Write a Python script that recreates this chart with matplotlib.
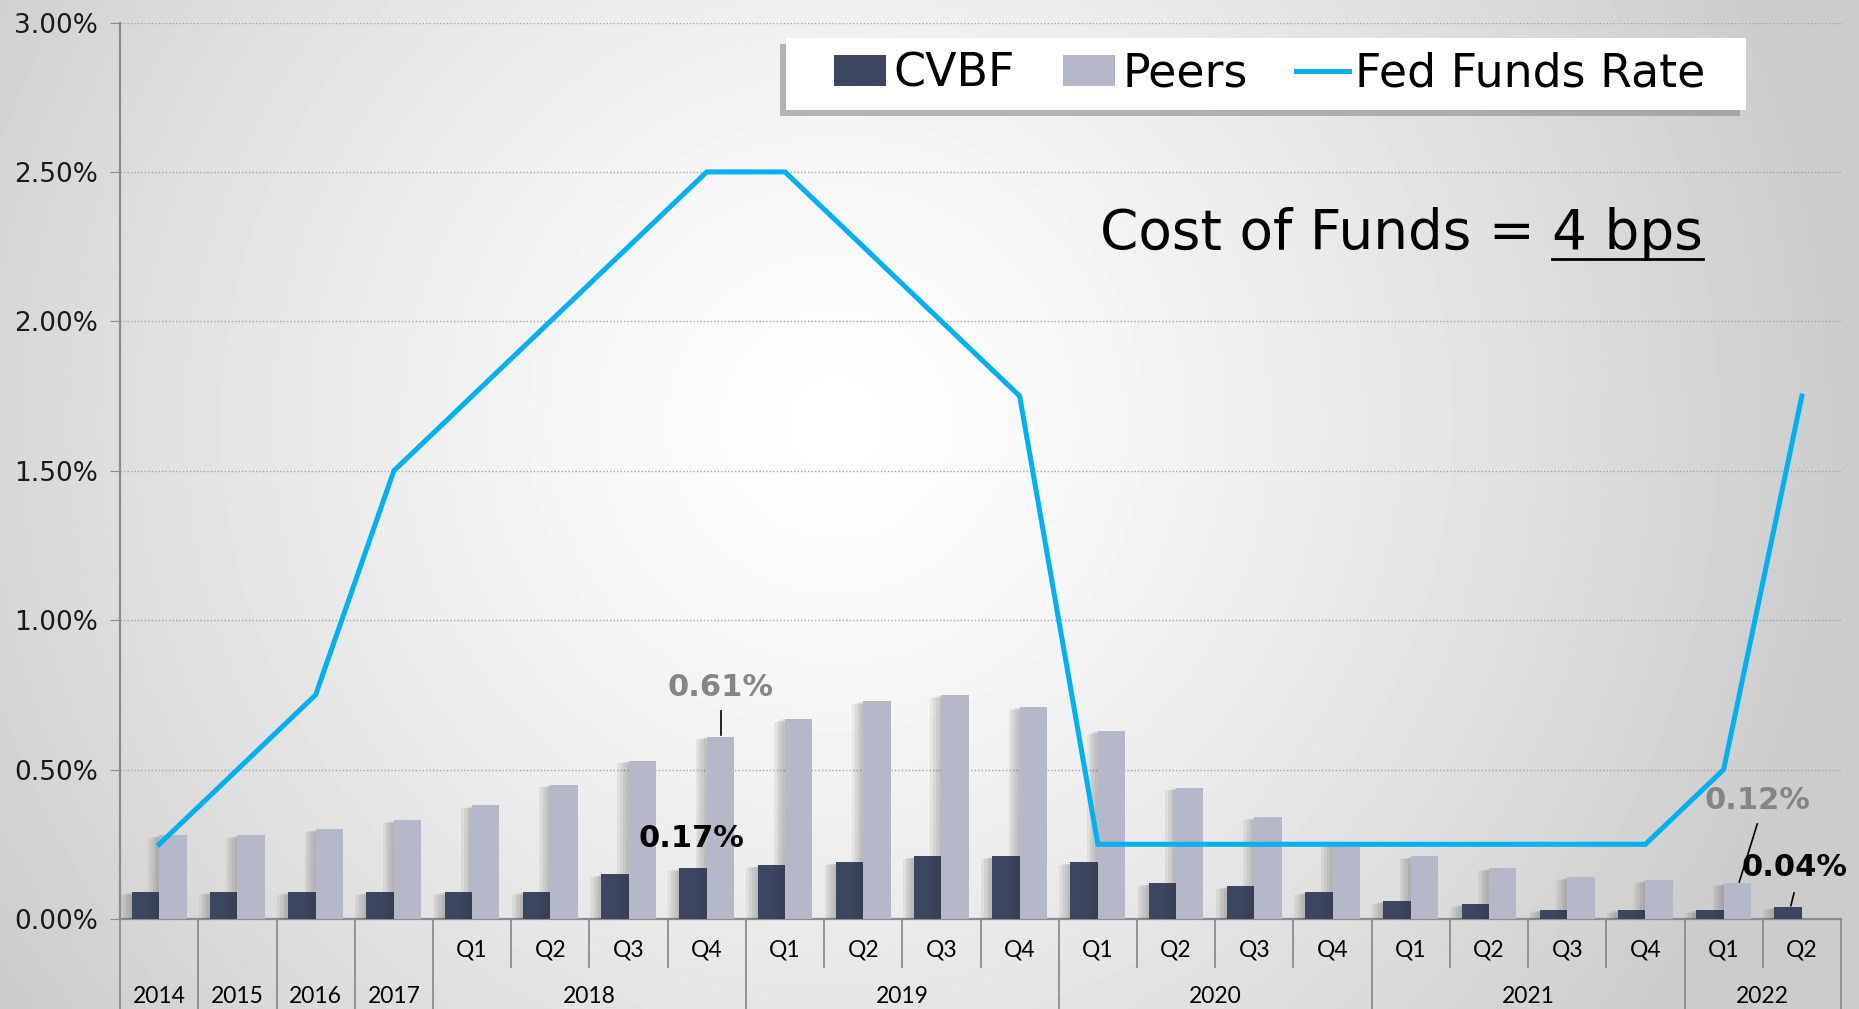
import numpy as np
import matplotlib.pyplot as plt
from matplotlib import patheffects
from matplotlib.patches import Patch, Rectangle
from matplotlib.lines import Line2D
import matplotlib.transforms as mtransforms

plt.rcParams['font.family'] = ['DejaVu Sans']

# ---- data (values in %) ----
quarter_labels = ['', '', '', '',
                  'Q1', 'Q2', 'Q3', 'Q4',
                  'Q1', 'Q2', 'Q3', 'Q4',
                  'Q1', 'Q2', 'Q3', 'Q4',
                  'Q1', 'Q2', 'Q3', 'Q4',
                  'Q1', 'Q2']
year_names = ['2014', '2015', '2016', '2017', '2018', '2019', '2020', '2021', '2022']
year_first = [0, 1, 2, 3, 4, 8, 12, 16, 20]
year_last = [0, 1, 2, 3, 7, 11, 15, 19, 21]

cvbf = [0.09, 0.09, 0.09, 0.09,
        0.09, 0.09, 0.15, 0.17,
        0.18, 0.19, 0.21, 0.21,
        0.19, 0.12, 0.11, 0.09,
        0.06, 0.05, 0.03, 0.03,
        0.03, 0.04]
peers = [0.28, 0.28, 0.30, 0.33,
         0.38, 0.45, 0.53, 0.61,
         0.67, 0.73, 0.75, 0.71,
         0.63, 0.44, 0.34, 0.25,
         0.21, 0.17, 0.14, 0.13,
         0.12]
fed_funds = [0.25, 0.50, 0.75, 1.50,
             1.75, 2.00, 2.25, 2.50,
             2.50, 2.25, 2.00, 1.75,
             0.25, 0.25, 0.25, 0.25,
             0.25, 0.25, 0.25, 0.25,
             0.50, 1.75]

NAVY = '#3b4660'
LILAC = '#b5b8c9'
BLUE = '#00b0f0'
GREY_TXT = '#858585'

fig = plt.figure(figsize=(18.59, 10.09), dpi=100)
W, H = fig.bbox.width, fig.bbox.height

# radial grey background
bg = fig.add_axes([0, 0, 1, 1], zorder=-10)
gx, gy = np.meshgrid(np.linspace(0, 1, 400), np.linspace(0, 1, 220))
d = np.sqrt(((gx - 0.45) * 1.84) ** 2 + (gy - 0.42) ** 2)
shade = 1 - 0.2 * np.clip(d / 1.0, 0, 1) ** 1.3
bg.imshow(shade, cmap='gray', vmin=0, vmax=1, aspect='auto', extent=[0, 1, 0, 1],
          origin='upper', interpolation='bilinear')
bg.axis('off')

ax = fig.add_axes([0.0646, 0.0892, 0.9257, 0.8885])
ax.patch.set_alpha(0)

x = np.arange(len(cvbf))
w = 0.35
shadow = [patheffects.SimplePatchShadow(offset=(-o, -o / 4), shadow_rgbFace='#333333', alpha=0.07)
          for o in (2, 4, 6, 8)] + [patheffects.Normal()]
ax.bar(x - w / 2, cvbf, w, color=NAVY, zorder=3, path_effects=shadow)
ax.bar(x[:len(peers)] + w / 2, peers, w, color=LILAC, zorder=3, path_effects=shadow)
ax.plot(x, fed_funds, color=BLUE, lw=3.6, zorder=5, solid_joinstyle='miter')

ax.set_xlim(-0.5, len(cvbf) - 0.5)
ax.set_ylim(0, 3)
ax.set_yticks(np.arange(0, 3.01, 0.5))
ax.yaxis.set_major_formatter(plt.FuncFormatter(lambda v, p: f'{v:.2f}%'))
ax.tick_params(axis='y', labelsize=19, length=7, color='#8c8c8c', pad=9, labelcolor='#1a1a1a')
ax.set_xticks([])
ax.yaxis.grid(True, linestyle=(0, (1, 1.5)), color='#a5a5a5', lw=1.0, zorder=0)
ax.set_axisbelow(True)
for s in ['top', 'right']:
    ax.spines[s].set_visible(False)
for s in ['left', 'bottom']:
    ax.spines[s].set_color('#8c8c8c')
    ax.spines[s].set_linewidth(1.6)

# multi-level category axis
trans = mtransforms.blended_transform_factory(ax.transData, ax.transAxes)
full_bounds = [-0.5] + [l + 0.5 for l in year_last]
for b in np.arange(-0.5, len(cvbf)):
    y_end = -0.105 if b in full_bounds else -0.053
    ax.add_line(Line2D([b, b], [0, y_end], transform=trans, color='#8c8c8c',
                       lw=1.3, clip_on=False))
for i, q in enumerate(quarter_labels):
    if q:
        ax.text(i, -0.035, q, transform=trans, ha='center', va='center',
                fontsize=16.5, family='Lato', clip_on=False)
for name, a, b in zip(year_names, year_first, year_last):
    ax.text((a + b) / 2, -0.086, name, transform=trans, ha='center', va='center',
            fontsize=16.5, family='Lato', clip_on=False)

# callouts
bold = dict(fontsize=22, fontweight='bold', ha='center', va='center', zorder=6)
ax.text(7.18, 0.773, f'{peers[7]:.2f}%', color=GREY_TXT, **bold)
ax.plot([7.18, 7.18], [0.696, 0.616], color='black', lw=1.2, zorder=6)
ax.text(6.81, 0.268, f'{cvbf[7]:.2f}%', color='black', **bold)
ax.text(20.43, 0.398, f'{peers[20]:.2f}%', color=GREY_TXT, **bold)
ax.plot([20.43, 20.20], [0.318, 0.124], color='black', lw=1.2, zorder=6)
ax.text(20.90, 0.174, f'{cvbf[21]:.2f}%', color='black', **bold)
ax.plot([20.90, 20.86], [0.087, 0.045], color='black', lw=1.2, zorder=6)

# legend box with drop shadow (pixel geometry of the white panel)
lx0, lx1, ly0, ly1 = 786, 1746, 38, 110
fig.add_artist(Rectangle(((lx0 - 6) / W, 1 - (ly1 + 6) / H), (lx1 - lx0) / W, (ly1 - ly0) / H,
                         transform=fig.transFigure, facecolor='#8a8a8a', edgecolor='none',
                         alpha=0.6, zorder=8))
fig.add_artist(Rectangle((lx0 / W, 1 - ly1 / H), (lx1 - lx0) / W, (ly1 - ly0) / H,
                         transform=fig.transFigure, facecolor='white', edgecolor='none',
                         zorder=9))
handles = [Patch(facecolor=NAVY), Patch(facecolor=LILAC), Line2D([], [], color=BLUE, lw=3.6)]
leg = fig.legend(handles, ['CVBF', 'Peers', 'Fed Funds Rate'], loc='center',
                 bbox_to_anchor=((lx0 + lx1) / 2 / W + 0.002, 1 - (ly0 + ly1) / 2 / H),
                 ncol=3, fontsize=33, frameon=False, borderaxespad=0,
                 handlelength=1.15, handleheight=0.65, handletextpad=0.15,
                 columnspacing=1.05, borderpad=0)
leg.set_zorder(10)

# headline with underlined value
base_y = 0.753
t1 = fig.text(0.5915, base_y, 'Cost of Funds = ', fontsize=39.5, va='baseline', ha='left')
fig.canvas.draw()
r = fig.canvas.get_renderer()
bb1 = t1.get_window_extent(r)
t2 = fig.text(bb1.x1 / W, base_y, '4 bps', fontsize=39.5, va='baseline', ha='left')
bb2 = t2.get_window_extent(r)
fig.add_artist(Line2D([bb2.x0 / W, bb2.x1 / W], [base_y - 10 / H, base_y - 10 / H],
                      color='black', lw=2))

fig.savefig('out.png', dpi=100)
